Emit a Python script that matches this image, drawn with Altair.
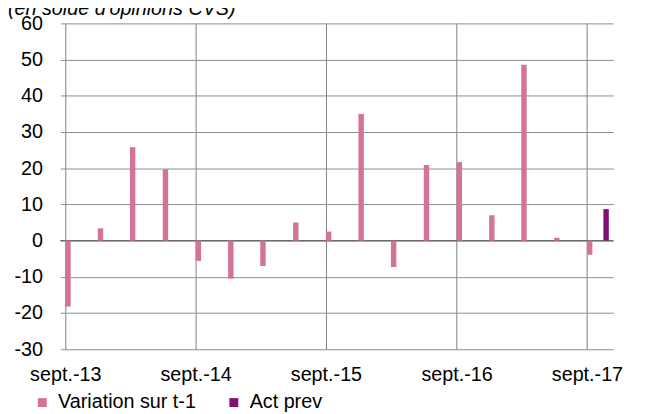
import altair as alt
import pandas as pd

# ---- data ----
quarters = ["2013-09-01", "2013-12-01", "2014-03-01", "2014-06-01",
            "2014-09-01", "2014-12-01", "2015-03-01", "2015-06-01",
            "2015-09-01", "2015-12-01", "2016-03-01", "2016-06-01",
            "2016-09-01", "2016-12-01", "2017-03-01", "2017-06-01",
            "2017-09-01"]
variation = [-18.2, 3.4, 25.8, 19.7, -5.6, -10.5, -7.0, 5.0,
             2.5, 35.0, -7.3, 20.9, 21.7, 7.0, 48.6, 0.8, -3.9]
act_prev_dates = ["2017-10-17"]
act_prev = [8.7]

series_names = ["Variation sur t-1", "Act prev"]
series_colors = ["#D4739A", "#7F1075"]
y_ticks = [-30, -20, -10, 0, 10, 20, 30, 40, 50, 60]
x_tick_years = [2013, 2014, 2015, 2016, 2017]
title_text = "(en solde d'opinions CVS)"

FONT = "Liberation Sans"

rows = [{"date": d, "value": v, "series": series_names[0]} for d, v in zip(quarters, variation)]
rows += [{"date": d, "value": v, "series": series_names[1]} for d, v in zip(act_prev_dates, act_prev)]
df = pd.DataFrame(rows)

x_scale = alt.Scale(
    type="utc",
    domain=[alt.DateTime(year=2013, month=9, date=1, utc=True),
            alt.DateTime(year=2017, month=10, date=31, utc=True)],
)
y_scale = alt.Scale(domain=[-30, 60], nice=False, zero=False)

x_axis = alt.Axis(
    values=[alt.DateTime(year=y, month=9, date=1, utc=True) for y in x_tick_years],
    tickCount=len(x_tick_years),
    labelExpr="'sept.-' + utcFormat(datum.value, '%y')",
    title=None, grid=True, gridColor="#7f7f7f", gridWidth=1,
    domain=False, ticks=False, labelPadding=15.5,
    labelFont=FONT, labelFontSize=20, labelColor="#000000",
    labelAlign="center", labelBaseline="top", labelFlush=False, labelOverlap=False,
)
y_axis = alt.Axis(
    values=y_ticks, tickCount=len(y_ticks),
    title=None, grid=True, gridColor="#8c8c8c", gridWidth=1,
    domain=False, ticks=False, labelPadding=18, labelOverlap=False,
    labelExpr="datum.value < 0 ? '-' + abs(datum.value) : '' + datum.value",
    labelFont=FONT, labelFontSize=20, labelColor="#000000",
)

bars = alt.Chart(df).mark_bar(size=5.5, xOffset=2.75).encode(
    x=alt.X("date:T", scale=x_scale, axis=x_axis),
    y=alt.Y("value:Q", scale=y_scale, axis=y_axis),
    color=alt.Color(
        "series:N",
        scale=alt.Scale(domain=series_names, range=series_colors),
        legend=alt.Legend(
            orient="none", legendX=-28.3, legendY=374, direction="horizontal",
            title=None, symbolType="square", symbolSize=81, symbolStrokeWidth=0,
            labelFont=FONT, labelFontSize=20, labelColor="#000000",
            labelOffset=6, columnPadding=28, padding=0,
        ),
    ),
)

label_df = pd.DataFrame({"t": [title_text]})

zero_line = alt.Chart(label_df).mark_rule(color="#6d6d6d", strokeWidth=1.5).encode(
    y=alt.datum(0),
)

title = alt.Chart(label_df).mark_text(
    align="left", baseline="alphabetic", font=FONT, fontSize=20,
    fontStyle="italic", color="#000000",
).encode(
    x=alt.value(-53), y=alt.value(-8), text="t:N",
)

chart = alt.layer(zero_line, bars, title).properties(
    width=560, height=330,
    autosize=alt.AutoSizeParams(type="none"),
    padding={"left": 53, "top": 13, "right": 25, "bottom": 64},
).configure_view(strokeWidth=0)

chart.save("out.html", embed_options={"renderer": "svg", "actions": False})
